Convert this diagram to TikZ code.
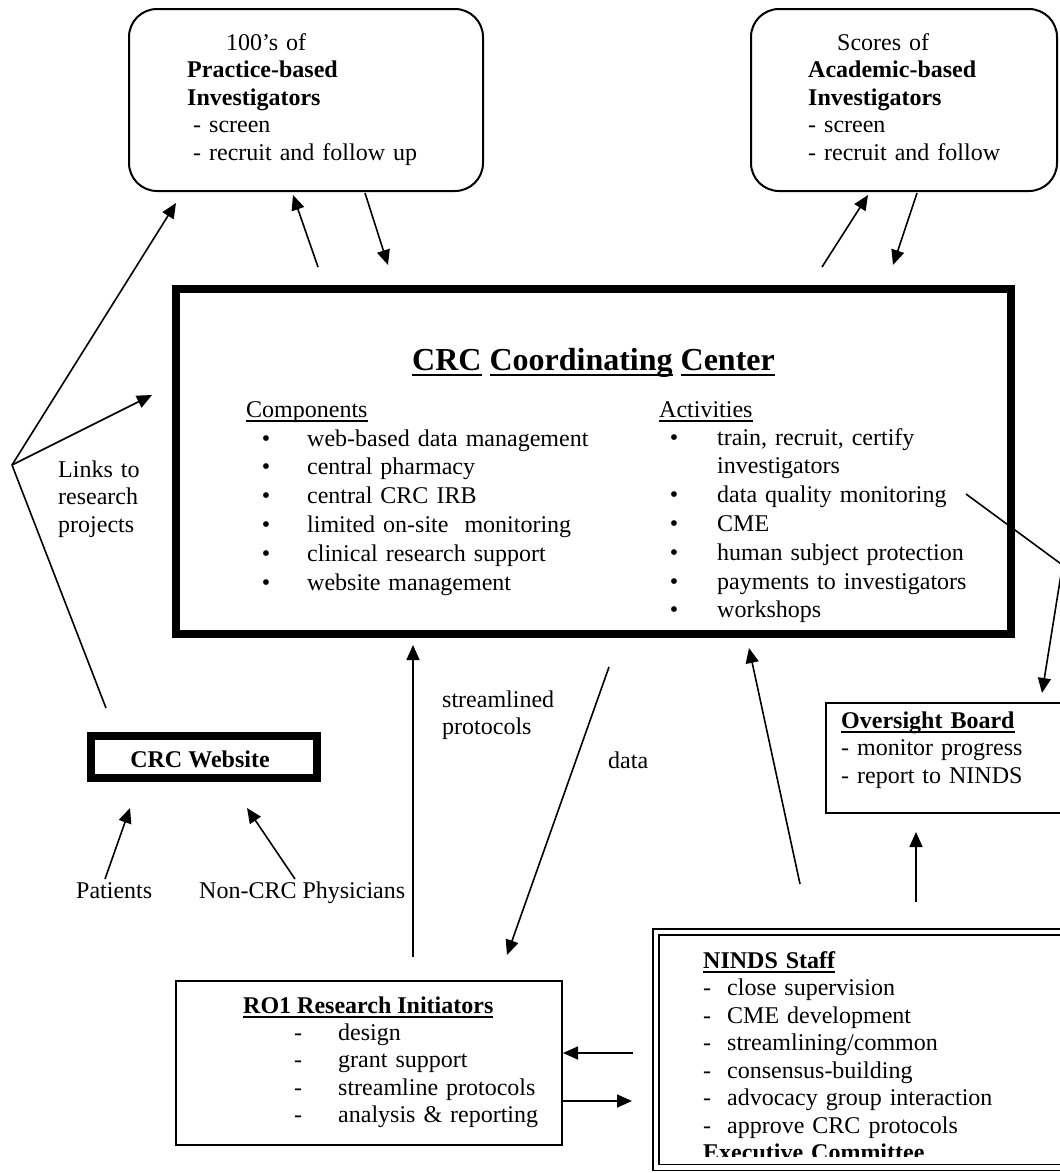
\documentclass[tikz,border=0pt]{standalone}
\usepackage{fontspec}
\setmainfont{Liberation Serif}
\usetikzlibrary{arrows.meta}
\newcommand\myul[1]{\setbox0=\hbox{#1}\rlap{\rule[-0.2em]{\wd0}{0.075em}}\box0\relax}
\newcommand\bulA{\leavevmode\llap{\textbullet\hspace{37pt}}}
\newcommand\bulB{\leavevmode\llap{\textbullet\hspace{39pt}}}
\newcommand\dshA{\leavevmode\llap{-\hspace{36pt}}}
\begin{document}
\begin{tikzpicture}[x=1pt,y=-1pt,
  txt/.style={anchor=base west, inner sep=0pt, text width=430pt, align=left,
    font=\fontsize{24}{27.5}\selectfont},
  wide/.style={font=\fontsize{24}{28.8}\selectfont},
  single/.style={anchor=base west, inner sep=0pt, font=\fontsize{24}{27.5}\selectfont},
  thickbox/.style={draw, line width=8pt, inner sep=0pt},
  plainbox/.style={draw, line width=2pt, inner sep=0pt},
  rbox/.style={draw, line width=2pt, rounded corners=28pt, inner sep=0pt},
  dblbox/.style={draw, double, double distance=4.5pt, line width=1.5pt, inner sep=0pt},
  arr/.style={-{Triangle[length=15pt,width=13pt]}, line width=1.6pt},
  plainline/.style={line width=1.6pt}]
\useasboundingbox (0,0) rectangle (1060,1173);
\fill[white] (0,0) rectangle (1060,1173);
\clip (0,0) rectangle (1060,1173);

% boxes
\node[rbox, minimum width=354pt, minimum height=182pt] (tl) at (306,100) {};
\node[rbox, minimum width=306pt, minimum height=182pt] (tr) at (904,100) {};
\node[thickbox, minimum width=835pt, minimum height=345pt] (crc) at (593.5,461.5) {};
\node[thickbox, minimum width=226.5pt, minimum height=42pt] (web) at (203.75,757) {};
\node[plainbox, minimum width=386pt, minimum height=164pt] (ro1) at (369,1063) {};
\node[plainbox, minimum width=260pt, minimum height=110pt] (ov) at (956,758) {};
\node[dblbox, minimum width=444pt, minimum height=235.5pt] (ninds) at (878,1049.75) {};

% texts
\node[txt] (tltxt) at (187,50) {\hspace*{39pt}100’s of\\
\textbf{Practice-based}\\
\textbf{Investigators}\\
\hspace*{6pt}- screen\\
\hspace*{6pt}- recruit and follow up};
\node[txt] (trtxt) at (808,50) {\hspace*{29pt}Scores of\\
\textbf{Academic-based}\\
\textbf{Investigators}\\
- screen\\
- recruit and follow};
\node[anchor=base, inner sep=0pt, font=\fontsize{32}{36}\selectfont\bfseries] (title) at (593.5,370)
  {\myul{CRC} \myul{Coordinating} \myul{Center}};
\node[single] (comphead) at (246,417) {\myul{Components}};
\node[txt, wide] (complist) at (307,446) {\bulA web-based data management\\
\bulA central pharmacy\\
\bulA central CRC IRB\\
\bulA limited on-site\ \ monitoring\\
\bulA clinical research support\\
\bulA website management};
\node[single] (acthead) at (659,417) {\myul{Activities}};
\node[txt, wide] (actlist) at (717,445) {\bulB train, recruit, certify\\
investigators\\
\bulB data quality monitoring\\
\bulB CME\\
\bulB human subject protection\\
\bulB payments to investigators\\
\bulB workshops};
\node[txt] (links) at (58,477) {Links to\\research\\projects};
\node[txt] (stream) at (442,707) {streamlined\\protocols};
\node[single] (datalbl) at (608,768) {data};
\node[anchor=base, inner sep=0pt, font=\fontsize{24}{27.5}\selectfont\bfseries] (webtxt) at (200,767) {CRC Website};
\node[single] (patients) at (76,898) {Patients};
\node[single] (noncrc) at (199,898) {Non-CRC Physicians};
\node[single] (ro1head) at (243,1013) {\textbf{\myul{RO1 Research Initiators}}};
\node[txt] (ro1list) at (338,1040) {\dshA design\\
\dshA grant support\\
\dshA streamline protocols\\
\dshA analysis \& reporting};
\node[txt] (ovtxt) at (841,728) {\textbf{\myul{Oversight Board}}\\
- monitor progress\\
- report to NINDS};
\begin{scope}
\clip (659,935) rectangle (1094,1156);
\node[txt] (nindstxt) at (703,968) {\textbf{\myul{NINDS Staff}}\\
-\hspace{16pt}close supervision\\
-\hspace{16pt}CME development\\
-\hspace{16pt}streamlining/common\\
-\hspace{16pt}consensus-building\\
-\hspace{16pt}advocacy group interaction\\
-\hspace{16pt}approve CRC protocols\\
\textbf{Executive Committee}};
\end{scope}

% connector end points
\coordinate (v) at (12,465);
\coordinate (webtop) at (106,708);
\coordinate (tlin1) at (176,203);
\coordinate (crcin1) at (152,395);
\coordinate (tlup0) at (318,267);
\coordinate (tlup1) at (293,195);
\coordinate (tldn0) at (365,193);
\coordinate (tldn1) at (388,265);
\coordinate (trup0) at (822,267);
\coordinate (trup1) at (868,195);
\coordinate (trdn0) at (917,193);
\coordinate (trdn1) at (893,265);
\coordinate (dq0) at (966,494);
\coordinate (dqk) at (1062.5,565);
\coordinate (dq1) at (1042,693);
\coordinate (ovup0) at (916,902);
\coordinate (ovup1) at (916,832);
\coordinate (nc0) at (800,884);
\coordinate (nc1) at (749,648);
\coordinate (sp0) at (413,957);
\coordinate (sp1) at (413,645);
\coordinate (da0) at (609,667);
\coordinate (da1) at (507,955);
\coordinate (pa0) at (105,879);
\coordinate (pa1) at (130,808);
\coordinate (np0) at (295,879);
\coordinate (np1) at (247,808);
\coordinate (nr0) at (633,1053);
\coordinate (nr1) at (ro1.east |- nr0);
\coordinate (rn0) at (ro1.east |- 0,1101);
\coordinate (rn1) at (632,1101);

% connectors
\draw[plainline] (webtop) -- (v);
\draw[arr] (v) -- (tlin1);
\draw[arr] (v) -- (crcin1);
\draw[arr] (tlup0) -- (tlup1);
\draw[arr] (tldn0) -- (tldn1);
\draw[arr] (trup0) -- (trup1);
\draw[arr] (trdn0) -- (trdn1);
\draw[arr] (dq0) -- (dqk) -- (dq1);
\draw[arr] (ovup0) -- (ovup1);
\draw[arr] (nc0) -- (nc1);
\draw[arr] (sp0) -- (sp1);
\draw[arr] (da0) -- (da1);
\draw[arr] (pa0) -- (pa1);
\draw[arr] (np0) -- (np1);
\draw[arr] (nr0) -- (nr1);
\draw[arr] (rn0) -- (rn1);
\end{tikzpicture}
\end{document}
